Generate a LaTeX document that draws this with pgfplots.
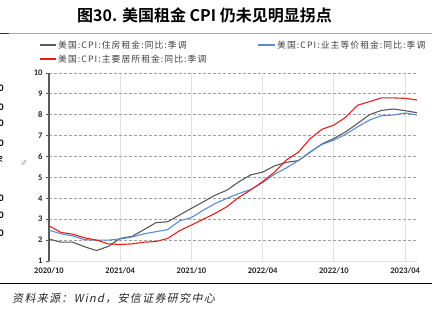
\documentclass[border=0pt]{standalone}
\usepackage{pgfplots}
\pgfplotsset{compat=1.18}
\usepackage{fontspec}
\setmainfont{Carlito}
\newfontfamily\cjk[LetterSpace=12]{Noto Sans CJK SC}
\newfontfamily\cjkb{Noto Sans CJK SC Bold}
\newfontfamily\cjkit[FakeSlant=0.2,LetterSpace=12]{Noto Sans CJK SC}
\definecolor{cblack}{HTML}{595959}
\definecolor{cblue}{HTML}{5B8BD6}
\definecolor{cred}{HTML}{E0201E}
\pgfplotstableread{
m v
0 2.05
1 1.9
2 1.9
3 1.68
4 1.5
5 1.7
6 2.08
7 2.18
8 2.5
9 2.83
10 2.88
11 3.2
12 3.52
13 3.83
14 4.15
15 4.39
16 4.79
17 5.12
18 5.25
19 5.55
20 5.72
21 5.8
22 6.2
23 6.6
24 6.86
25 7.18
26 7.58
27 8.0
28 8.2
29 8.27
30 8.19
31 8.09
}\housing
\pgfplotstableread{
m v
0 2.48
1 2.3
2 2.2
3 2.02
4 2.0
5 2.0
6 2.05
7 2.15
8 2.3
9 2.4
10 2.5
11 2.92
12 3.08
13 3.43
14 3.75
15 4.0
16 4.23
17 4.42
18 4.75
19 5.15
20 5.45
21 5.8
22 6.22
23 6.58
24 6.78
25 7.06
26 7.42
27 7.74
28 7.95
29 7.98
30 8.08
31 7.98
}\oer
\pgfplotstableread{
m v
0 2.68
1 2.37
2 2.28
3 2.11
4 2.0
5 1.82
6 1.79
7 1.82
8 1.9
9 1.93
10 2.08
11 2.45
12 2.72
13 3.0
14 3.28
15 3.6
16 4.05
17 4.4
18 4.8
19 5.25
20 5.83
21 6.2
22 6.85
23 7.3
24 7.5
25 7.88
26 8.45
27 8.62
28 8.8
29 8.8
30 8.78
31 8.7
}\primary
\begin{document}
\begin{tikzpicture}[x=1bp,y=1bp]
\useasboundingbox (0,0) rectangle (441,330);
% title
\node[font=\cjkb\fontsize{16bp}{18bp}\selectfont] at (204.5,330-15.5) {图30. 美国租金 CPI 仍未见明显拐点};
% separator lines
\draw[gray!70, line width=0.8bp] (0,330-33) -- (432,330-33);
\draw[black!80, line width=0.8bp] (0,330-33) -- (9,330-33);
\draw[black, line width=0.9bp] (0,330-283) -- (432,330-283);
% left edge artifacts
\foreach \yy in {88,107,123,143,198,215,233} {
  \node[anchor=east, font=\bfseries\fontsize{10bp}{11bp}\selectfont, inner sep=0pt] at (4,330-\yy) {00};
}
\node[anchor=center, rotate=90, font=\bfseries\fontsize{10bp}{11bp}\selectfont, inner sep=0pt] at (-1,330-160) {\%};
% legend
\draw[cblack, line width=1.1bp] (40,330-45) -- (56,330-45);
\node[anchor=west, inner sep=0pt, font=\cjk\fontsize{8.8bp}{10bp}\selectfont, text=black!75] at (58,330-45) {美国:CPI:住房租金:同比:季调};
\draw[cblue, line width=1.1bp] (258,330-45) -- (275,330-45);
\node[anchor=west, inner sep=0pt, font=\cjk\fontsize{8.8bp}{10bp}\selectfont, text=black!75] at (277,330-45) {美国:CPI:业主等价租金:同比:季调};
\draw[cred, line width=1.1bp] (40,330-59) -- (56,330-59);
\node[anchor=west, inner sep=0pt, font=\cjk\fontsize{8.8bp}{10bp}\selectfont, text=black!75] at (58,330-59) {美国:CPI:主要居所租金:同比:季调};
% y label
\node[rotate=90, font=\fontsize{7bp}{8bp}\selectfont, text=gray] at (24,330-163) {\%};
% source
\node[anchor=west, inner sep=0pt, font=\cjkit\fontsize{11bp}{12bp}\selectfont, text=black!85] at (12,330-298) {资料来源：Wind，安信证券研究中心};
\begin{axis}[
  at={(49bp,69bp)}, anchor=south west,
  scale only axis, width=368bp, height=188.2bp,
  xmin=0, xmax=31, ymin=1, ymax=10,
  enlargelimits=false,
  axis x line*=bottom, axis y line*=left,
  axis line style={-},
  x axis line style={draw=gray!25, line width=0.8bp},
  y axis line style={draw=black!65, line width=1.6bp},
  xtick={0,6,12,18,24,30},
  xticklabels={2020/10,2021/04,2021/10,2022/04,2022/10,2023/04},
  ytick={1,2,...,10},
  tick align=outside,
  x tick style={draw=none},
  y tick style={draw=black!65, line width=0.6bp},
  major tick length=3bp,
  tick label style={font=\bfseries\fontsize{8.5bp}{9bp}\selectfont, text=black!85},
  /pgf/number format/assume math mode=true,
  xmajorgrids, ymajorgrids,
  x grid style={gray!22, line width=1bp},
  y grid style={densely dashed, gray!75, line width=0.5bp},
  clip=false,
]
\addplot[cblack, line width=1.1bp] table[x=m,y=v] {\housing};
\addplot[cblue, line width=1.1bp] table[x=m,y=v] {\oer};
\addplot[cred, line width=1.1bp] table[x=m,y=v] {\primary};
\end{axis}
\end{tikzpicture}
\end{document}
